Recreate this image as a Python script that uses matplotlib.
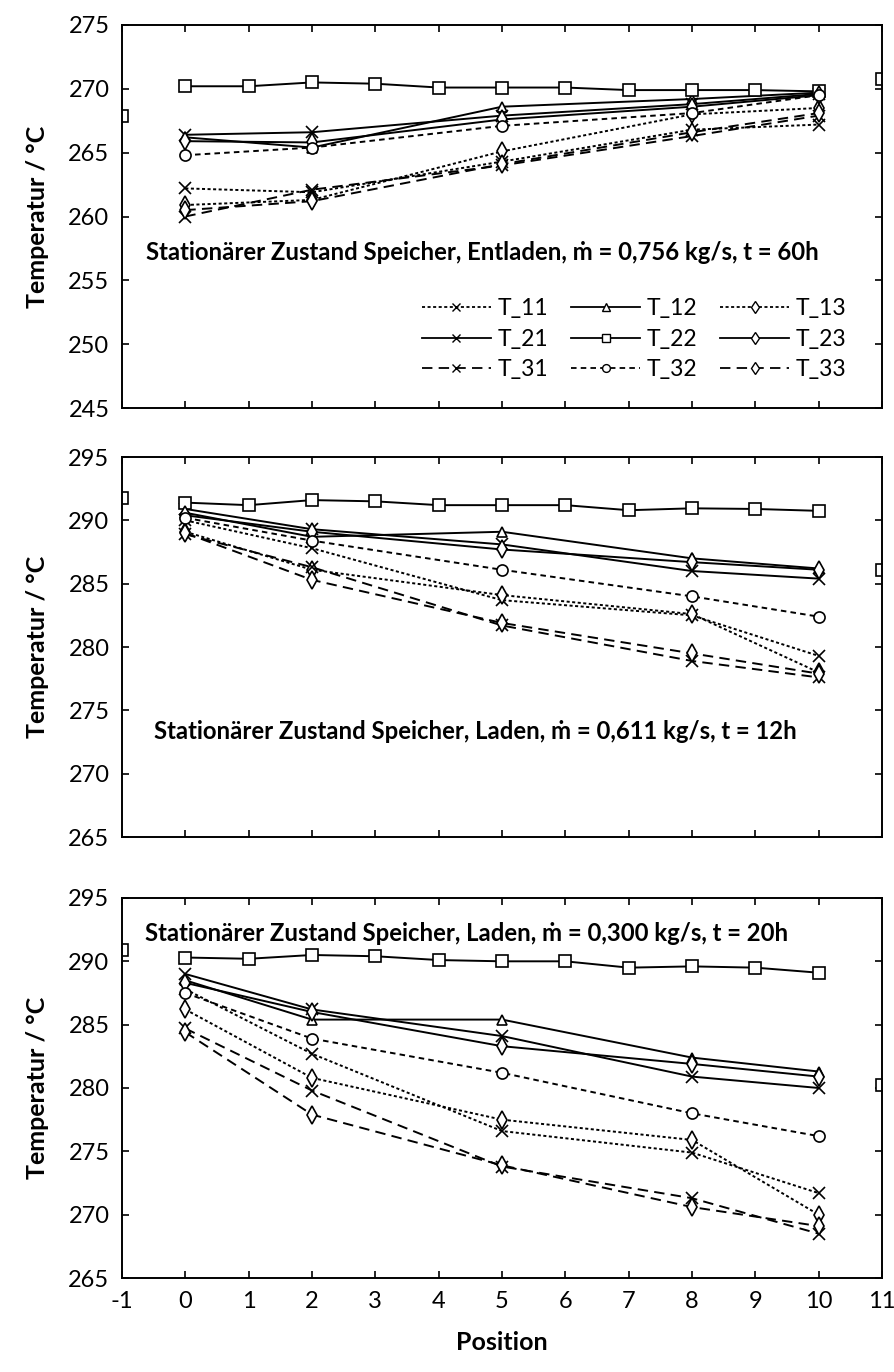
import matplotlib
matplotlib.use('Agg')
import matplotlib.pyplot as plt
from matplotlib.lines import Line2D

plt.rcParams['font.family'] = ['Lato', 'DejaVu Sans']
plt.rcParams['lines.scale_dashes'] = False
plt.rcParams['axes.unicode_minus'] = False

# sensor positions
pos = [0, 2, 5, 8, 10]
pos_22 = list(range(11))
pos_ext = [-1, 11]   # inlet / outlet

# --- Entladen, m = 0,756 kg/s, t = 60h
e_T11 = [262.2, 261.9, 264.3, 266.8, 267.2]
e_T12 = [266.2, 265.4, 268.6, 269.2, 269.7]
e_T13 = [260.9, 261.3, 265.1, 268.0, 268.5]
e_T21 = [266.4, 266.6, 267.9, 268.8, 269.6]
e_T22 = [270.2, 270.2, 270.5, 270.4, 270.1, 270.1, 270.1, 269.9, 269.9, 269.9, 269.8]
e_T23 = [265.9, 265.8, 267.6, 268.6, 269.5]
e_T31 = [260.0, 262.1, 264.0, 266.3, 267.9]
e_T32 = [264.8, 265.4, 267.1, 268.1, 269.5]
e_T33 = [260.5, 261.2, 264.1, 266.6, 268.1]
e_ext = [267.9, 270.8]

# --- Laden, m = 0,611 kg/s, t = 12h
l1_T11 = [290.0, 287.8, 283.7, 282.5, 279.3]
l1_T12 = [290.6, 288.7, 289.1, 287.0, 286.2]
l1_T13 = [289.1, 286.1, 284.1, 282.6, 278.0]
l1_T21 = [290.9, 289.3, 288.1, 286.0, 285.4]
l1_T22 = [291.4, 291.2, 291.6, 291.5, 291.2, 291.2, 291.2, 290.8, 290.95, 290.9, 290.75]
l1_T23 = [290.4, 289.1, 287.7, 286.7, 286.1]
l1_T31 = [288.9, 286.3, 281.7, 278.9, 277.6]
l1_T32 = [290.2, 288.4, 286.1, 284.0, 282.4]
l1_T33 = [289.0, 285.3, 281.9, 279.5, 277.9]
l1_ext = [291.8, 286.1]

# --- Laden, m = 0,300 kg/s, t = 20h
l2_T11 = [287.8, 282.7, 276.6, 274.9, 271.7]
l2_T12 = [288.5, 285.4, 285.4, 282.4, 281.3]
l2_T13 = [286.2, 280.8, 277.5, 275.9, 270.0]
l2_T21 = [289.0, 286.2, 284.1, 280.9, 280.0]
l2_T22 = [290.3, 290.2, 290.5, 290.4, 290.1, 290.0, 290.0, 289.5, 289.6, 289.5, 289.1]
l2_T23 = [288.3, 286.0, 283.3, 281.9, 280.9]
l2_T31 = [284.7, 279.8, 273.8, 271.3, 268.5]
l2_T32 = [287.5, 283.9, 281.2, 278.0, 276.2]
l2_T33 = [284.4, 277.9, 273.9, 270.6, 269.1]
l2_ext = [290.9, 280.2]

titles = ['Stationärer Zustand Speicher, Entladen, ṁ = 0,756 kg/s, t = 60h',
          'Stationärer Zustand Speicher, Laden, ṁ = 0,611 kg/s, t = 12h',
          'Stationärer Zustand Speicher, Laden, ṁ = 0,300 kg/s, t = 20h']

names = ['T_11', 'T_12', 'T_13', 'T_21', 'T_22', 'T_23', 'T_31', 'T_32', 'T_33']
short = (2.2, 1.8)
mid = (4.0, 3.0)
long = (7.5, 4.5)
styles = {
    'T_11': dict(marker='x', ms=8, dashes=short),
    'T_12': dict(marker='^', ms=7.5, dashes=()),
    'T_13': dict(marker='d', ms=9, dashes=short),
    'T_21': dict(marker='x', ms=8, dashes=()),
    'T_22': dict(marker='s', ms=8, dashes=()),
    'T_23': dict(marker='d', ms=9, dashes=()),
    'T_31': dict(marker='x', ms=8, dashes=long),
    'T_32': dict(marker='o', ms=8, dashes=mid),
    'T_33': dict(marker='d', ms=9, dashes=long),
}

panels = [
    dict(data=[e_T11, e_T12, e_T13, e_T21, e_T22, e_T23, e_T31, e_T32, e_T33], ext=e_ext,
         ylim=(245, 275), title=titles[0], tpos=(-0.62, 257.2)),
    dict(data=[l1_T11, l1_T12, l1_T13, l1_T21, l1_T22, l1_T23, l1_T31, l1_T32, l1_T33], ext=l1_ext,
         ylim=(265, 295), title=titles[1], tpos=(-0.5, 273.3)),
    dict(data=[l2_T11, l2_T12, l2_T13, l2_T21, l2_T22, l2_T23, l2_T31, l2_T32, l2_T33], ext=l2_ext,
         ylim=(265, 295), title=titles[2], tpos=(-0.64, 292.2)),
]

fig = plt.figure(figsize=(8.95, 13.72), dpi=100)
boxes = [[0.1363, 0.7026, 0.8492, 0.2792],
         [0.1363, 0.3899, 0.8492, 0.2770],
         [0.1363, 0.0685, 0.8492, 0.2770]]

for i, p in enumerate(panels):
    ax = fig.add_axes(boxes[i])
    for name, vals in zip(names, p['data']):
        st = styles[name]
        x = pos_22 if name == 'T_22' else pos
        ax.plot(x, vals, color='black', lw=1.4, marker=st['marker'], ms=st['ms'],
                mfc='white', mec='black', mew=1.2, dashes=st['dashes'], label=name)
    ax.plot(pos_ext, p['ext'], ls='none', marker='s', ms=8, mfc='white', mec='black', mew=1.2)

    ax.set_xlim(-1, 11)
    ax.set_xticks(range(-1, 12))
    ax.set_ylim(*p['ylim'])
    ax.set_yticks(range(p['ylim'][0], p['ylim'][1] + 1, 5))
    ax.tick_params(direction='in', top=True, right=True, length=5, width=1.2,
                   labelsize=17, pad=9, labelbottom=(i == 2))
    for s in ax.spines.values():
        s.set_linewidth(1.4)
    ax.set_ylabel('Temperatur / °C', fontsize=18, fontweight='bold', labelpad=14)
    ax.text(p['tpos'][0], p['tpos'][1], p['title'], fontsize=17.2, fontweight='bold', va='center')

    if i == 0:
        # legend rows T_x1..T_x3, filled column-wise
        order = ['T_11', 'T_21', 'T_31', 'T_12', 'T_22', 'T_32', 'T_13', 'T_23', 'T_33']
        handles = [Line2D([], [], color='black', lw=1.3, marker=styles[n]['marker'],
                          ms=styles[n]['ms'] * 0.7, mfc='white', mec='black', mew=1.0,
                          dashes=styles[n]['dashes']) for n in order]
        ax.legend(handles, order, ncol=3, frameon=False, fontsize=16.5,
                  loc='center', bbox_to_anchor=(0.674, 0.18), handlelength=3.0,
                  handletextpad=0.3, columnspacing=1.0, labelspacing=0.4,
                  borderpad=0, borderaxespad=0)
    if i == 2:
        ax.set_xlabel('Position', fontsize=18, fontweight='bold', labelpad=14)

fig.savefig('out.png', dpi=100)
